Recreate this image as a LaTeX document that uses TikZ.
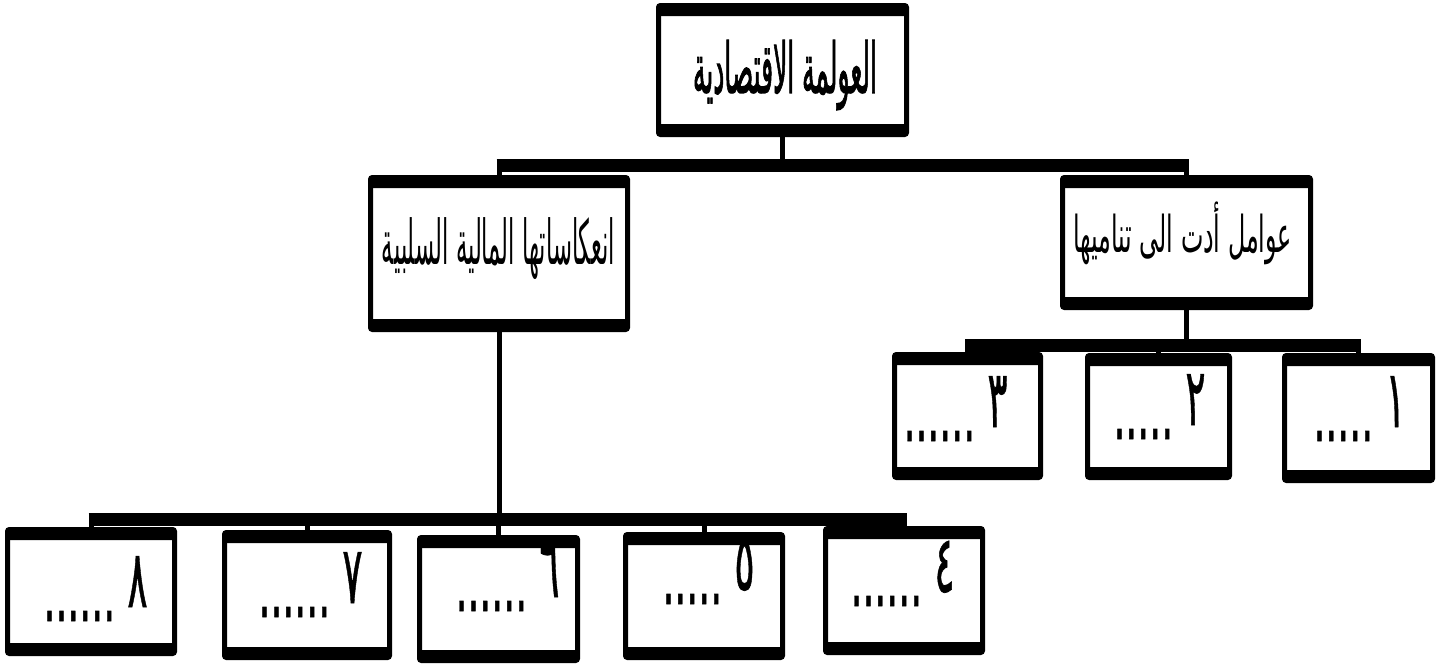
\documentclass[tikz,border=0pt]{standalone}
\usepackage{fontspec}
\usepackage{graphicx}
\usetikzlibrary{fit}
\TeXXeTstate=1
\newfontfamily\arabicfont[Script=Arabic]{DejaVu Sans}
\newfontfamily\arabicbold[Script=Arabic,FakeBold=2]{DejaVu Sans}
\newfontfamily\arabicnum[Script=Arabic,FakeBold=1]{DejaVu Sans}
\newcommand\numlbl[2]{\scalebox{0.47}[1]{\arabicnum\fontsize{40}{40}\selectfont\beginR\raisebox{7pt}{#1}\hspace{13pt}#2\endR}}
\begin{document}
\begin{tikzpicture}[x=0.5pt,y=-0.5pt,
  box/.style={draw=black, line width=2.5pt, rounded corners=1pt, inner sep=0pt, fill=white,
    path picture={
      \fill[black] (path picture bounding box.north west) rectangle ([yshift=-5.25pt]path picture bounding box.north east);
      \fill[black] (path picture bounding box.south west) rectangle ([yshift=5.25pt]path picture bounding box.south east);}},
  conn/.style={draw=black, line width=2.5pt},
  bar/.style={draw=black, line width=6.5pt},
  ttl/.style={inner sep=0pt},
  num/.style={inner sep=0pt, anchor=base east}]
\fill[white] (0,0) rectangle (1447,664);
\useasboundingbox (0,0) rectangle (1447,664);
% boxes (outer px edges minus half border)
\node[box, fit={(658.5,5.5) (906.5,134.5)}] (top) {};
\node[box, fit={(370.5,177.5) (627.5,329.5)}] (left) {};
\node[box, fit={(1062.5,177.5) (1310.5,307.5)}] (right) {};
\node[box, fit={(1284.5,355.5) (1432.5,480.5)}] (b1) {};
\node[box, fit={(1087.5,355.5) (1229.5,477.5)}] (b2) {};
\node[box, fit={(894.5,354.5) (1040.5,477.5)}] (b3) {};
\node[box, fit={(825.5,528.5) (982.5,652.5)}] (b4) {};
\node[box, fit={(625.5,534.5) (782.5,657.5)}] (b5) {};
\node[box, fit={(419.5,537.5) (577.5,660.5)}] (b6) {};
\node[box, fit={(224.5,532.5) (389.5,657.5)}] (b7) {};
\node[box, fit={(7.5,529.5) (174.5,653.5)}] (b8) {};
% texts
\node[ttl] (t0) at (785,75) {\resizebox*{92pt}{35pt}{\arabicbold\beginR العولمة الاقتصادية\endR}};
\node[ttl] (tl) at (498.5,249) {\resizebox*{116.5pt}{31pt}{\arabicfont\beginR انعكاساتها المالية السلبية\endR}};
\node[ttl] (tr) at (1182.5,233.5) {\resizebox*{109.5pt}{31.5pt}{\arabicfont\beginR عوامل أدت الى تناميها\endR}};
\node[num] (n1) at (1406,441) {\numlbl{١}{.....}};
\node[num] (n2) at (1206,439) {\numlbl{٢}{.....}};
\node[num] (n3) at (1008,441) {\numlbl{٣}{......}};
\node[num] (n4) at (955,606) {\numlbl{٤}{......}};
\node[num] (n5) at (755,604) {\numlbl{٥}{.....}};
\node[num] (n6) at (560,611) {\numlbl{٦}{......}};
\node[num] (n7) at (363,617) {\numlbl{٧}{......}};
\node[num] (n8) at (148,621) {\numlbl{٨}{......}};
% connectors: level 1
\draw[conn] (top.south) -- (top.south |- 0,165);
\draw[bar] ([xshift=-1.25pt]left.north |- 0,165) -- ([xshift=1.25pt]right.north |- 0,165);
\draw[conn] (left.north |- 0,165) -- (left.north);
\draw[conn] (right.north |- 0,165) -- (right.north);
% right group
\draw[conn] (right.south) -- (right.south |- 0,345);
\draw[bar] ([xshift=-1.25pt]b3.north |- 0,345) -- ([xshift=1.25pt]b1.north |- 0,345);
\draw[conn] (b1.north |- 0,345) -- (b1.north);
\draw[conn] (b2.north |- 0,345) -- (b2.north);
\draw[conn] (b3.north |- 0,345) -- (b3.north);
% left group
\draw[conn] (left.south) -- (left.south |- 0,519);
\draw[bar] ([xshift=-1.25pt]b8.north |- 0,519) -- ([xshift=1.25pt]b4.north |- 0,519);
\draw[conn] (b4.north |- 0,519) -- (b4.north);
\draw[conn] (b5.north |- 0,519) -- (b5.north);
\draw[conn] (b6.north |- 0,519) -- (b6.north);
\draw[conn] (b7.north |- 0,519) -- (b7.north);
\draw[conn] (b8.north |- 0,519) -- (b8.north);
\end{tikzpicture}
\end{document}
